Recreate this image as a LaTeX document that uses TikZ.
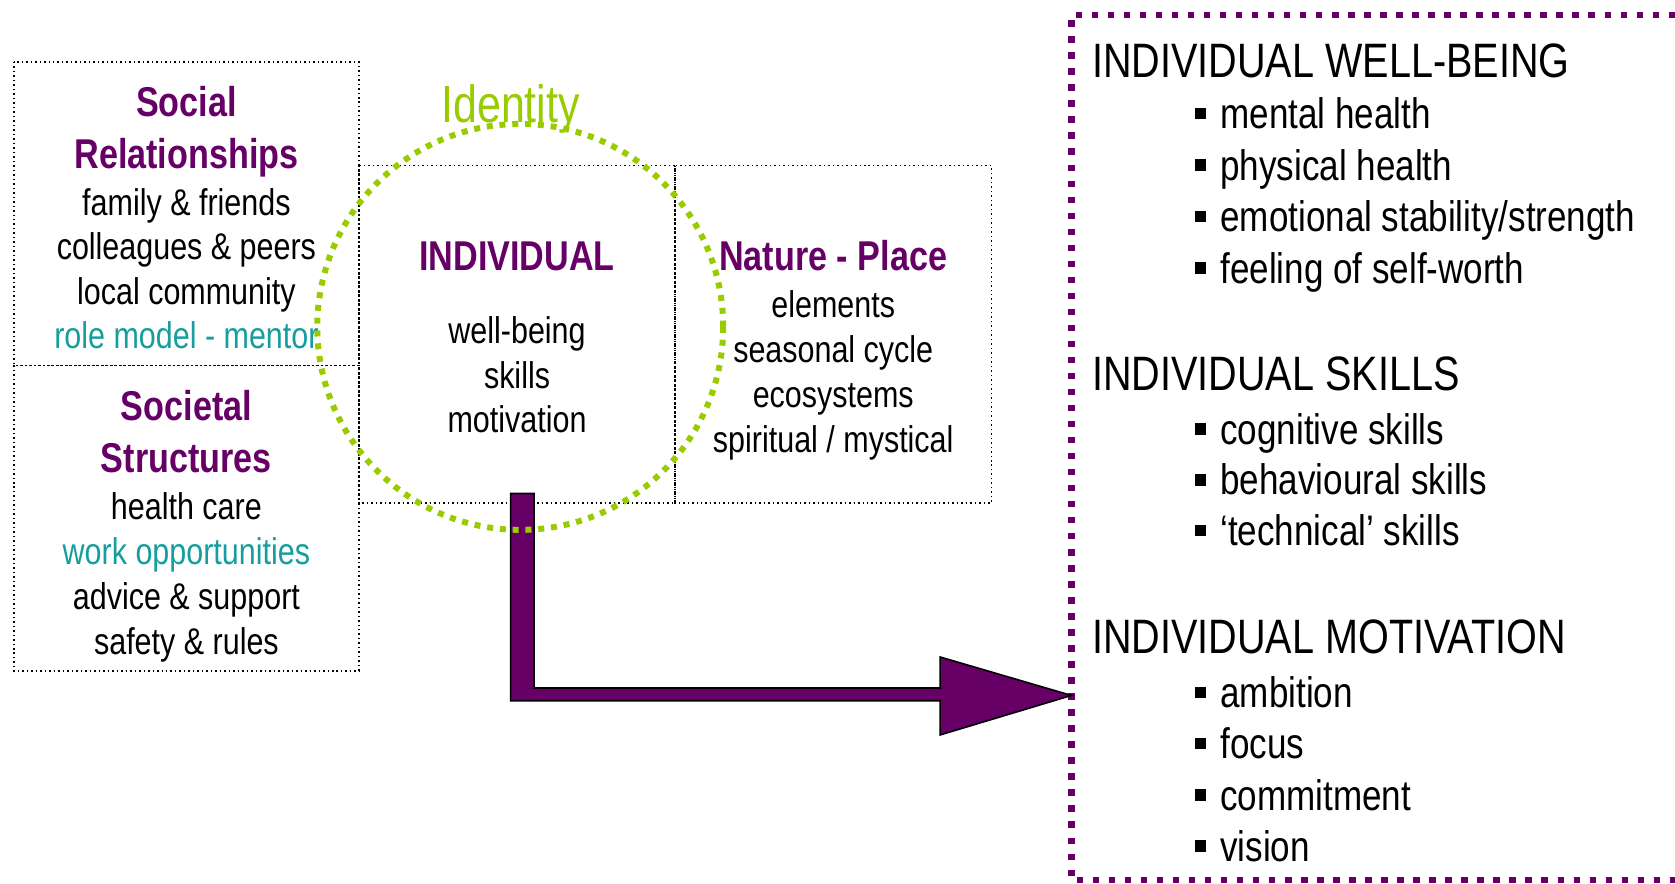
\documentclass[tikz,border=0pt]{standalone}
\usepackage{fontspec}
\setmainfont{Liberation Sans}[FakeStretch=0.82]
\definecolor{plum}{HTML}{660066}
\definecolor{tealtext}{HTML}{169E9E}
\definecolor{limegreen}{HTML}{99CC00}
\newcommand\sqbul{\rule[0.22em]{0.27em}{0.27em}\hspace{0.33em}}

\begin{document}
\begin{tikzpicture}[x=0.5pt,y=-0.5pt,
    frame/.style={line width=0.7pt, dash pattern=on 0.7pt off 1.4pt},
    ring/.style={draw=limegreen, line width=2.8pt, dash pattern=on 2.8pt off 3.2pt},
    outer/.style={draw=plum, line width=3pt, dash pattern=on 3pt off 4.5pt},
    line/.style={inner sep=0pt, text height=0.75em, text depth=0.22em},
    txt/.style={line, font=\fontsize{17.4}{20}\selectfont},
    hd/.style={line, font=\fontsize{19.5}{22}\selectfont\bfseries, text=plum},
    rhd/.style={line, anchor=west, font=\fontsize{22.6}{26}\selectfont},
    itm/.style={line, anchor=west, font=\fontsize{20}{24}\selectfont}]

  \useasboundingbox (0,0) rectangle (1568,827);

  % boxes
  \draw[frame] (13,58) rectangle (336,342) (13,342) rectangle (336,628);
  \draw[frame] (336,155) rectangle (632,471) (632,155) rectangle (928,471);

  % social relationships
  \node[hd] (social) at (174.5,104) {Social};
  \node[hd] (rel) at (174.5,152) {Relationships};
  \foreach \lbl [count=\i] in {family \& friends,colleagues \& peers,local community}
    \node[txt] (rel\i) at (174.5,154+42*\i) {\lbl};
  \node[txt, text=tealtext] (mentor) at (174.5,321) {role model - mentor};

  % societal structures
  \node[hd] (societal) at (174.5,388) {Societal};
  \node[hd] (struct) at (174.5,437) {Structures};
  \node[txt] (care) at (174.5,481) {health care};
  \node[txt, text=tealtext] (work) at (174.5,523) {work opportunities};
  \node[txt] (advice) at (174.5,565) {advice \& support};
  \node[txt] (rules) at (174.5,607) {safety \& rules};

  % individual
  \node[hd] (indiv) at (484,248) {INDIVIDUAL};
  \foreach \lbl [count=\i] in {well-being,skills,motivation}
    \node[txt] (ind\i) at (484,274+42*\i) {\lbl};

  % nature
  \node[hd] (nature) at (780,248) {Nature - Place};
  \foreach \lbl [count=\i] in {elements,seasonal cycle,ecosystems,spiritual / mystical}
    \node[txt] (nat\i) at (780,250+42*\i) {\lbl};

  \node[line, font=\fontsize{24.5}{28}\selectfont, text=limegreen] (identity) at (478,109) {Identity};

  % outcomes
  \draw[outer] (1568,14) -- (1003,14) -- (1003,824) -- (1568,824);
  \node[rhd] (wbhead) at (1022,67) {INDIVIDUAL WELL-BEING};
  \foreach \lbl [count=\i] in {mental health,physical health,emotional stability/strength,feeling of self-worth}
    \node[itm] (wb\i) at (1118,67+48.2*\i) {\sqbul\lbl};
  \node[rhd] (skhead) at (1022,360) {INDIVIDUAL SKILLS};
  \foreach \lbl [count=\i] in {cognitive skills,behavioural skills,‘technical’ skills}
    \node[itm] (sk\i) at (1118,363+47.5*\i) {\sqbul\lbl};
  \node[rhd] (mohead) at (1022,606) {INDIVIDUAL MOTIVATION};
  \foreach \lbl [count=\i] in {ambition,focus,commitment,vision}
    \node[itm] (mo\i) at (1118,609+48*\i) {\sqbul\lbl};

  % bent arrow
  \draw[fill=plum, line width=0.75pt] (478,462) -- (500,462) -- (500,644) -- (880,644)
    -- (880,615) -- (1003,651) -- (880,688) -- (880,656) -- (478,656) -- cycle;

  % identity ring
  \draw[ring] (487,306) circle [radius=190];
\end{tikzpicture}
\end{document}
